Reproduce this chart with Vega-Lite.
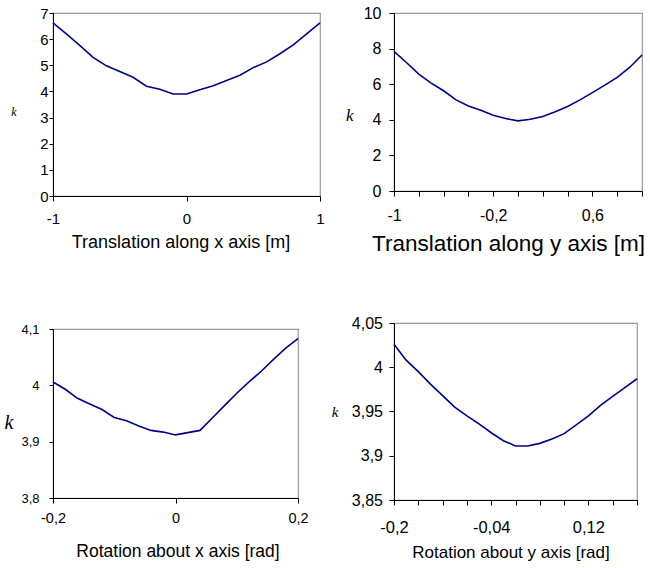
{
  "$schema": "https://vega.github.io/schema/vega-lite/v6.json",
  "padding": {"left": 3, "top": 4, "right": 0, "bottom": 0},
  "background": "white",
  "columns": 2,
  "align": "none",
  "spacing": 5,
  "concat": [
    {
      "columns": 1,
      "align": "none",
      "spacing": 70,
      "concat": [
        {
          "width": 267,
          "height": 183,
          "data": {"values": [
            {"x": -1, "k": 6.62}, {"x": -0.9, "k": 6.2}, {"x": -0.8, "k": 5.76}, {"x": -0.7, "k": 5.3},
            {"x": -0.6, "k": 4.98}, {"x": -0.5, "k": 4.76}, {"x": -0.4, "k": 4.54}, {"x": -0.3, "k": 4.2},
            {"x": -0.2, "k": 4.08}, {"x": -0.1, "k": 3.9}, {"x": 0, "k": 3.9}, {"x": 0.1, "k": 4.06},
            {"x": 0.2, "k": 4.22}, {"x": 0.3, "k": 4.42}, {"x": 0.4, "k": 4.62}, {"x": 0.5, "k": 4.91},
            {"x": 0.6, "k": 5.13}, {"x": 0.7, "k": 5.44}, {"x": 0.8, "k": 5.78}, {"x": 0.9, "k": 6.2},
            {"x": 1, "k": 6.62}
          ]},
          "mark": {"type": "line", "color": "#00008B", "strokeWidth": 1.6},
          "encoding": {
            "x": {"field": "x", "type": "quantitative",
              "scale": {"domain": [-1, 1], "nice": false, "zero": false},
              "axis": {"values": [-1, 0, 1], "format": ".1~f", "title": "Translation along x axis [m]",
                "titleFontSize": 18, "titleX": 127.5, "labelFontSize": 15, "tickSize": 5, "labelPadding": 10, "titlePadding": 7}},
            "y": {"field": "k", "type": "quantitative",
              "scale": {"domain": [0, 7], "nice": false, "zero": false},
              "axis": {"values": [0, 1, 2, 3, 4, 5, 6, 7], "format": ".1~f", "title": "k",
                "titleFont": "Liberation Serif", "titleFontStyle": "italic", "titleFontSize": 12,
                "titleAngle": 0, "titleAlign": "right", "titleBaseline": "middle", "titleX": -37, "titleY": 98,
                "labelFontSize": 15, "tickSize": 4, "labelPadding": 1}}
          }
        },
        {
          "width": 245,
          "height": 169,
          "data": {"values": [
            {"x": -0.2, "k": 4.006}, {"x": -0.18, "k": 3.993}, {"x": -0.16, "k": 3.977}, {"x": -0.14, "k": 3.967},
            {"x": -0.12, "k": 3.957}, {"x": -0.1, "k": 3.943}, {"x": -0.08, "k": 3.937}, {"x": -0.06, "k": 3.928},
            {"x": -0.04, "k": 3.92}, {"x": -0.02, "k": 3.917}, {"x": 0, "k": 3.912}, {"x": 0.02, "k": 3.916},
            {"x": 0.04, "k": 3.92}, {"x": 0.06, "k": 3.942}, {"x": 0.08, "k": 3.964}, {"x": 0.1, "k": 3.986},
            {"x": 0.12, "k": 4.006}, {"x": 0.14, "k": 4.025}, {"x": 0.16, "k": 4.046}, {"x": 0.18, "k": 4.066},
            {"x": 0.2, "k": 4.083}
          ]},
          "mark": {"type": "line", "color": "#00008B", "strokeWidth": 1.6},
          "encoding": {
            "x": {"field": "x", "type": "quantitative",
              "scale": {"domain": [-0.2, 0.2], "nice": false, "zero": false},
              "axis": {"values": [-0.2, 0, 0.2], "format": ".2~f", "title": "Rotation about x axis [rad]",
                "titleX": 124.5,
                "titleFontSize": 17.5, "labelFontSize": 14.5, "tickSize": 5, "labelPadding": 8.5, "titlePadding": 17}},
            "y": {"field": "k", "type": "quantitative",
              "scale": {"domain": [3.8, 4.1], "nice": false, "zero": false},
              "axis": {"values": [3.8, 3.9, 4, 4.1], "format": ".2~f", "title": "k",
                "titleFont": "Liberation Serif", "titleFontStyle": "italic", "titleFontSize": 20,
                "titleAngle": 0, "titleAlign": "right", "titleBaseline": "middle", "titleX": -40, "titleY": 93,
                "labelFontSize": 13, "tickSize": 4, "labelPadding": 10}}
          }
        }
      ]
    },
    {
      "columns": 1,
      "align": "all",
      "spacing": 58,
      "concat": [
        {
          "width": 248,
          "height": 178,
          "data": {"values": [
            {"x": -1, "k": 7.84}, {"x": -0.9, "k": 7.22}, {"x": -0.8, "k": 6.57}, {"x": -0.7, "k": 6.06},
            {"x": -0.6, "k": 5.63}, {"x": -0.5, "k": 5.12}, {"x": -0.4, "k": 4.78}, {"x": -0.3, "k": 4.54},
            {"x": -0.2, "k": 4.26}, {"x": -0.1, "k": 4.07}, {"x": 0, "k": 3.94}, {"x": 0.1, "k": 4.03},
            {"x": 0.2, "k": 4.18}, {"x": 0.3, "k": 4.45}, {"x": 0.4, "k": 4.75}, {"x": 0.5, "k": 5.12},
            {"x": 0.6, "k": 5.53}, {"x": 0.7, "k": 5.95}, {"x": 0.8, "k": 6.38}, {"x": 0.9, "k": 6.94},
            {"x": 1, "k": 7.64}
          ]},
          "mark": {"type": "line", "color": "#00008B", "strokeWidth": 1.6},
          "encoding": {
            "x": {"field": "x", "type": "quantitative",
              "scale": {"domain": [-1, 1], "nice": false, "zero": false},
              "axis": {"values": [-1, -0.8, -0.6, -0.4, -0.2, 0, 0.2, 0.4, 0.6, 0.8, 1], "format": ".1~f",
                "labelExpr": "indexof([-1, -0.2, 0.6], datum.value) >= 0 ? datum.label : ''",
                "title": "Translation along y axis [m]", "titleX": 114,
                "titleFontSize": 22.5, "labelFontSize": 16, "tickSize": 5, "labelPadding": 11, "titlePadding": 9}},
            "y": {"field": "k", "type": "quantitative",
              "scale": {"domain": [0, 10], "nice": false, "zero": false},
              "axis": {"values": [0, 2, 4, 6, 8, 10], "format": ".1~f", "title": "k",
                "titleFont": "Liberation Serif", "titleFontStyle": "italic", "titleFontSize": 17,
                "titleAngle": 0, "titleAlign": "right", "titleBaseline": "middle", "titleX": -41, "titleY": 102,
                "labelFontSize": 16, "tickSize": 5, "labelPadding": 8}}
          }
        },
        {
          "width": 243,
          "height": 177,
          "data": {"values": [
            {"x": -0.2, "k": 4.026}, {"x": -0.18, "k": 4.008}, {"x": -0.16, "k": 3.995}, {"x": -0.14, "k": 3.981},
            {"x": -0.12, "k": 3.968}, {"x": -0.1, "k": 3.955}, {"x": -0.08, "k": 3.945}, {"x": -0.06, "k": 3.936},
            {"x": -0.04, "k": 3.926}, {"x": -0.02, "k": 3.917}, {"x": 0, "k": 3.911}, {"x": 0.02, "k": 3.911},
            {"x": 0.04, "k": 3.914}, {"x": 0.06, "k": 3.919}, {"x": 0.08, "k": 3.925}, {"x": 0.1, "k": 3.935},
            {"x": 0.12, "k": 3.945}, {"x": 0.14, "k": 3.957}, {"x": 0.16, "k": 3.967}, {"x": 0.18, "k": 3.977},
            {"x": 0.2, "k": 3.987}
          ]},
          "mark": {"type": "line", "color": "#00008B", "strokeWidth": 1.6},
          "encoding": {
            "x": {"field": "x", "type": "quantitative",
              "scale": {"domain": [-0.2, 0.2], "nice": false, "zero": false},
              "axis": {"values": [-0.2, -0.16, -0.12, -0.08, -0.04, 0, 0.04, 0.08, 0.12, 0.16, 0.2], "format": ".2~f",
                "labelExpr": "indexof([-0.2, -0.04, 0.12], datum.value) >= 0 ? datum.label : ''",
                "title": "Rotation about y axis [rad]", "titleX": 116.5,
                "titleFontSize": 17, "labelFontSize": 16.5, "tickSize": 5, "labelPadding": 14, "titlePadding": 9}},
            "y": {"field": "k", "type": "quantitative",
              "scale": {"domain": [3.85, 4.05], "nice": false, "zero": false},
              "axis": {"values": [3.85, 3.9, 3.95, 4, 4.05], "format": ".2~f", "title": "k",
                "titleFont": "Liberation Serif", "titleFontStyle": "italic", "titleFontSize": 15,
                "titleAngle": 0, "titleAlign": "right", "titleBaseline": "middle", "titleX": -56, "titleY": 88,
                "labelFontSize": 16, "tickSize": 5, "labelPadding": 6.5}}
          }
        }
      ]
    }
  ],
  "config": {
    "locale": {"number": {"decimal": ",", "thousands": ".", "grouping": [3], "currency": ["", ""], "minus": "-"}},
    "view": {"stroke": "#999999", "strokeWidth": 1.2},
    "axis": {
      "grid": false,
      "domainColor": "#000000",
      "domainWidth": 1,
      "tickColor": "#000000",
      "tickWidth": 1,
      "labelColor": "#000000",
      "titleColor": "#000000",
      "labelFont": "Liberation Sans",
      "titleFont": "Liberation Sans",
      "titleFontWeight": "normal",
      "labelFlush": false,
      "labelOverlap": false
    }
  }
}
